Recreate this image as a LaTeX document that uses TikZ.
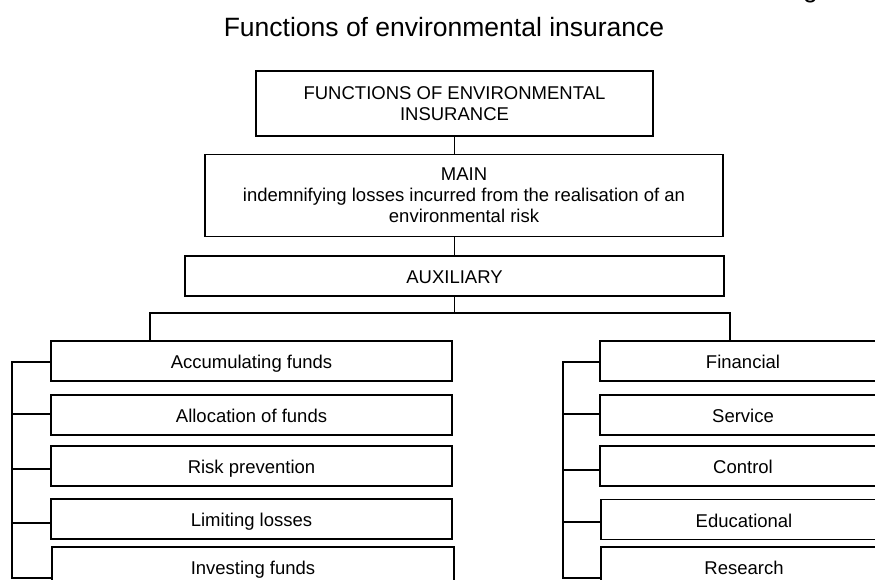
\documentclass[tikz,border=0pt]{standalone}
\usepackage{fontspec}
\setmainfont{Liberation Sans}
\begin{document}
\begin{tikzpicture}[x=1pt,y=-1pt,
  box/.style={draw, line width=1.8pt, inner sep=0pt, align=center,
    font=\fontsize{18.5}{21}\selectfont},
  sbox/.style={box, text height=15pt, text depth=0pt},
  lbox/.style={sbox, minimum width=401pt, minimum height=40pt},
  rbox/.style={sbox, minimum width=286pt, minimum height=40pt},
  link/.style={line width=1.6pt}]
\useasboundingbox (0,0) rectangle (875,580);
% title and cut-off fragment
\node[font=\fontsize{26.5}{30}\selectfont, anchor=base, inner sep=0pt] (title) at (444,37) {Functions of environmental insurance};
\node[font=\fontsize{26.5}{30}\selectfont, anchor=base west, inner sep=0pt] (gfrag) at (803,-2.5) {g};
% upper boxes
\node[box, minimum width=397pt, minimum height=65pt] (top) at (454.5,103.5) {FUNCTIONS OF ENVIRONMENTAL\\INSURANCE};
\node[box, minimum width=518pt, minimum height=82pt] (main) at (464,195.5) {MAIN\\indemnifying losses incurred from the realisation of an\\environmental risk};
\node[sbox, minimum width=539pt, minimum height=40pt] (aux) at (454.5,276) {AUXILIARY};
% left column
\node[lbox] (acc) at (251.5,361) {Accumulating funds};
\node[lbox] (alloc) at (251.5,415) {Allocation of funds};
\node[lbox] (risk) at (251.5,466) {Risk prevention};
\node[lbox] (lim) at (251.5,519) {Limiting losses};
\node[lbox, minimum width=402pt] (inv) at (253,567) {Investing funds};
% right column
\node[rbox] (fin) at (743,361) {Financial};
\node[rbox] (serv) at (743,415) {Service};
\node[rbox] (ctrl) at (743,466) {Control};
\node[rbox] (edu) at (744,519.5) {Educational};
\node[rbox] (res) at (744,567) {Research};
% trunk
\draw[link] (top.south) -- (top.south |- main.north);
\draw[link] (top.south |- main.south) -- (top.south |- aux.north);
\coordinate (busL) at (150,313);
\coordinate (busR) at (730,313);
\draw[link] (aux.south) -- (aux.south |- busL);
\draw[link] (acc.north -| busL) -- (busL) -- (busR) -- (fin.north -| busR);
% left bracket
\coordinate (l1) at (12,362);
\coordinate (l2) at (12,414);
\coordinate (l3) at (12,469);
\coordinate (l4) at (12,523);
\coordinate (l5) at (12,578);
\draw[link] (l1 -| acc.west) -- (l1) -- (l5) -- (l5 -| inv.west);
\draw[link] (l2) -- (l2 -| alloc.west);
\draw[link] (l3) -- (l3 -| risk.west);
\draw[link] (l4) -- (l4 -| lim.west);
% right bracket
\coordinate (r1) at (563,362);
\coordinate (r2) at (563,414);
\coordinate (r3) at (563,470);
\coordinate (r4) at (563,522);
\coordinate (r5) at (563,578);
\draw[link] (r1 -| fin.west) -- (r1) -- (r5) -- (r5 -| res.west);
\draw[link] (r2) -- (r2 -| serv.west);
\draw[link] (r3) -- (r3 -| ctrl.west);
\draw[link] (r4) -- (r4 -| edu.west);
\end{tikzpicture}
\end{document}
